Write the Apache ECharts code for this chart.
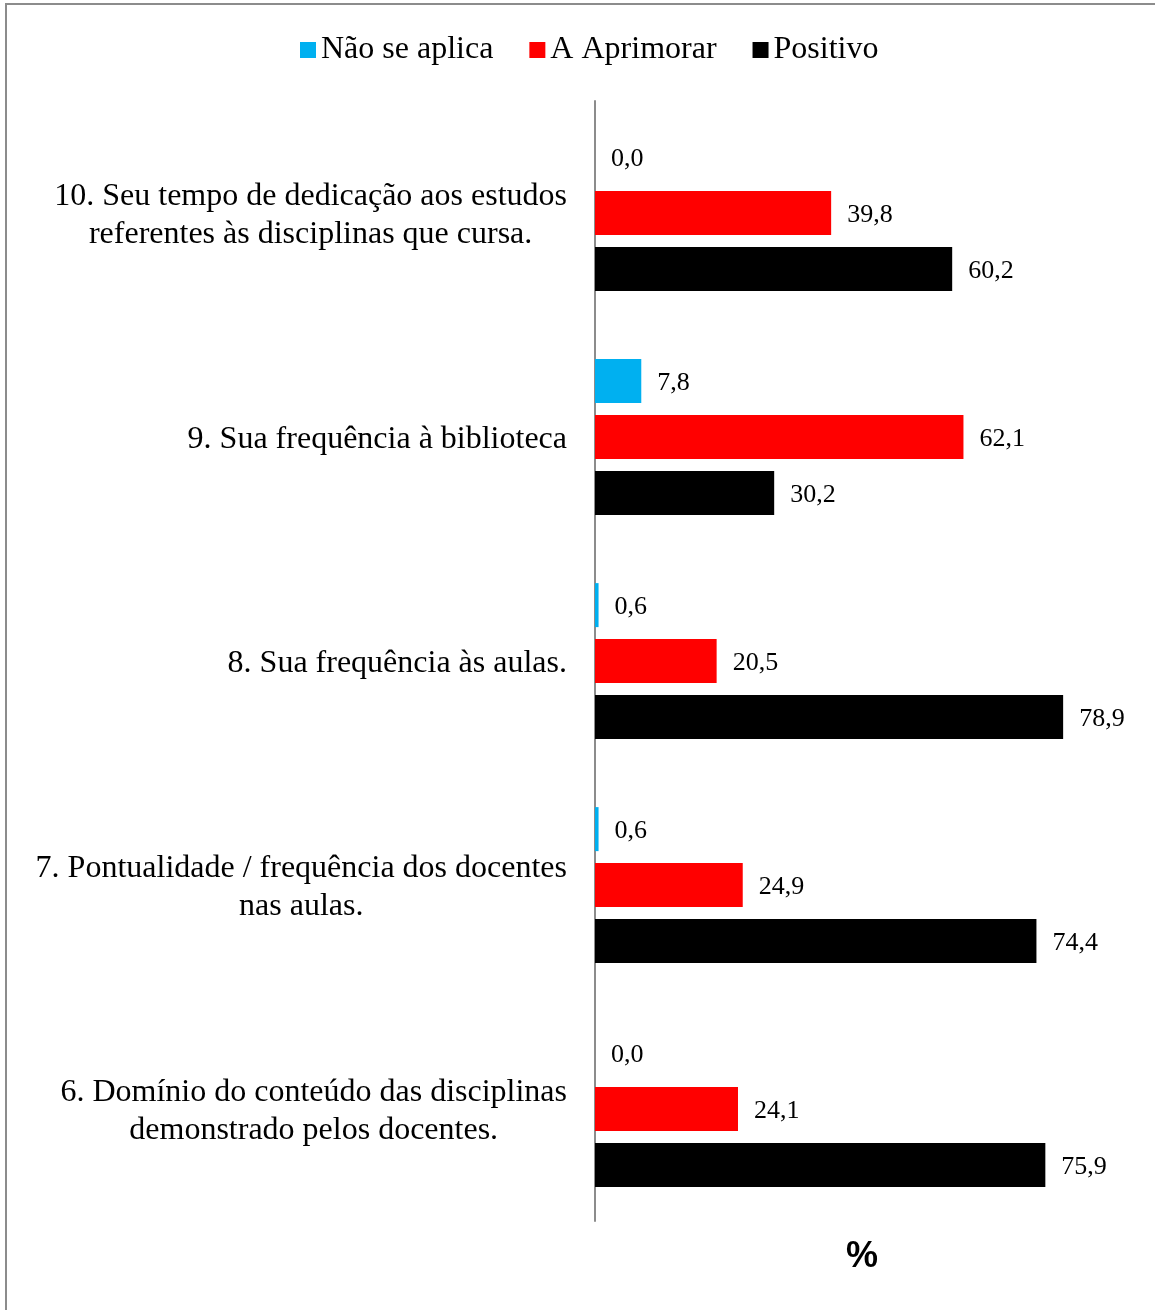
<!DOCTYPE html>
<html>
<head>
<meta charset="utf-8">
<script src="https://cdn.jsdelivr.net/npm/echarts@6/dist/echarts.min.js"></script>
<style>
  html, body { margin: 0; padding: 0; background: #fff; }
  #frame {
    position: absolute; left: 5px; top: 3px; width: 1200px; height: 1400px;
    border-left: 2px solid #8c8c8c; border-top: 2px solid #8c8c8c;
  }
  #main { position: absolute; left: 0; top: 0; width: 1155px; height: 1310px; }
</style>
</head>
<body>
<div id="frame"></div>
<div id="main"></div>
<script>
// categorias (de baixo para cima)
const categorias = [
  '6. Domínio do conteúdo das disciplinas\ndemonstrado pelos docentes.',
  '7. Pontualidade / frequência dos docentes\nnas aulas.',
  '8. Sua frequência às aulas.',
  '9. Sua frequência à biblioteca',
  '10. Seu tempo de dedicação aos estudos\nreferentes às disciplinas que cursa.'
]
const naoSeAplica = [0.0, 0.6, 0.6, 7.8, 0.0]
const aAprimorar = [24.1, 24.9, 20.5, 62.1, 39.8]
const positivo = [75.9, 74.4, 78.9, 30.2, 60.2]

const serif = '"Liberation Serif", "Times New Roman", serif'

const chart = echarts.init(document.getElementById('main'))

// rótulo das barras com vírgula decimal
const barLabel = {
  show: true,
  position: 'right',
  distance: 16,
  offset: [0, 2],
  color: '#000',
  fontFamily: serif,
  fontSize: 26,
  formatter: p => p.value.toFixed(1).replace('.', ',')
}

const option = {
  animation: false,
  legend: {
    data: ['Não se aplica', 'A Aprimorar', 'Positivo'],
    top: 29,
    left: 295,
    icon: 'rect',
    itemWidth: 16,
    itemHeight: 16,
    itemGap: 36,
    textStyle: { fontFamily: serif, fontSize: 32, color: '#000' }
  },
  grid: { left: 595, top: 101, width: 534, height: 1120, containLabel: false },
  xAxis: {
    type: 'value',
    min: 0,
    max: 90,
    axisLine: { show: false },
    axisTick: { show: false },
    axisLabel: { show: false },
    splitLine: { show: false },
    name: '%',
    nameLocation: 'middle',
    nameGap: 18,
    nameTextStyle: {
      fontFamily: '"Liberation Sans", Arial, sans-serif',
      fontWeight: 'bold',
      fontSize: 36,
      color: '#000',
      verticalAlign: 'top'
    }
  },
  yAxis: {
    type: 'category',
    data: categorias,
    axisLine: { show: true, lineStyle: { color: '#8c8c8c', width: 2 } },
    axisTick: { show: false },
    axisLabel: {
      margin: 28,
      align: 'right',
      padding: [6, 0, 0, 0],
      formatter: v => v.split('\n').map(l => '{c|' + l + '}').join('\n'),
      rich: {
        c: { align: 'center', fontFamily: serif, fontSize: 32, lineHeight: 38, color: '#000' }
      }
    }
  },
  series: [
    {
      name: 'Não se aplica',
      type: 'bar',
      data: naoSeAplica,
      barWidth: 44,
      barGap: '27%',
      itemStyle: { color: '#00b0f0' },
      label: barLabel
    },
    {
      name: 'A Aprimorar',
      type: 'bar',
      data: aAprimorar,
      barWidth: 44,
      barGap: '27%',
      itemStyle: { color: '#ff0000' },
      label: barLabel
    },
    {
      name: 'Positivo',
      type: 'bar',
      data: positivo,
      barWidth: 44,
      barGap: '27%',
      itemStyle: { color: '#000000' },
      label: barLabel
    }
  ]
}

chart.setOption(option)
</script>
</body>
</html>
